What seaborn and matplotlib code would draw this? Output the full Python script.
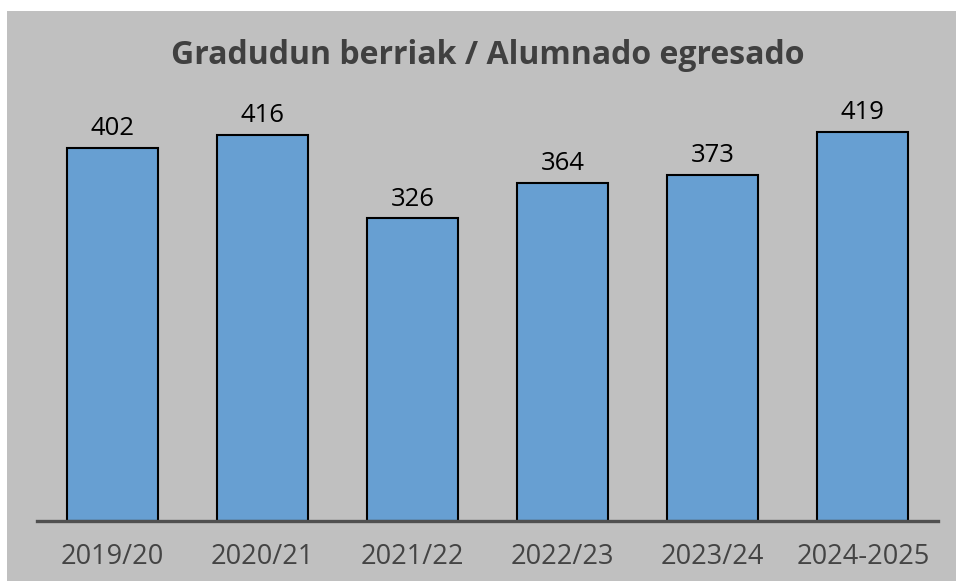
import matplotlib
matplotlib.use("Agg")
import matplotlib.pyplot as plt
from matplotlib.patches import Rectangle
import pandas as pd
import seaborn as sns

# Datos
cursos = ["2019/20", "2020/21", "2021/22", "2022/23", "2023/24", "2024-2025"]
egresados = [402, 416, 326, 364, 373, 419]
titulo = "Gradudun berriak / Alumnado egresado"

df = pd.DataFrame({"curso": cursos, "egresados": egresados})

sns.set_style("white")
plt.rcParams["font.family"] = ["Open Sans", "DejaVu Sans"]

W, H = 956, 583
fig = plt.figure(figsize=(W / 100, H / 100), dpi=100, facecolor="white")

# fondo gris del panel
fig.patches.append(Rectangle((7 / W, 2 / H), (W - 7) / W, (570) / H,
                             transform=fig.transFigure, facecolor="#c0c0c0",
                             edgecolor="none", zorder=-1))

ax = fig.add_axes([37 / W, (H - 521) / H, (938 - 37) / W, (521 - 60) / H])
ax.set_facecolor("none")

sns.barplot(data=df, x="curso", y="egresados", color="#679fd2", saturation=1,
            width=0.607, edgecolor="black", linewidth=1.5, ax=ax)

for cont in ax.containers:
    ax.bar_label(cont, padding=5, fontsize=18.5, color="black")

ax.set_xlim(-0.5, 5.5)
ax.set_ylim(0, 496.8)
ax.set_xlabel("")
ax.set_ylabel("")
ax.set_yticks([])
for s in ["top", "right", "left"]:
    ax.spines[s].set_visible(False)
ax.spines["bottom"].set_color("#505050")
ax.spines["bottom"].set_linewidth(2.4)
ax.tick_params(axis="x", length=0, pad=16, labelsize=19.5, labelcolor="#444444")

fig.text(488 / W, 1 - 55 / H, titulo, ha="center", va="center",
         fontsize=23, fontweight="bold", color="#404040")

fig.savefig("out.png", dpi=100, facecolor=fig.get_facecolor())
